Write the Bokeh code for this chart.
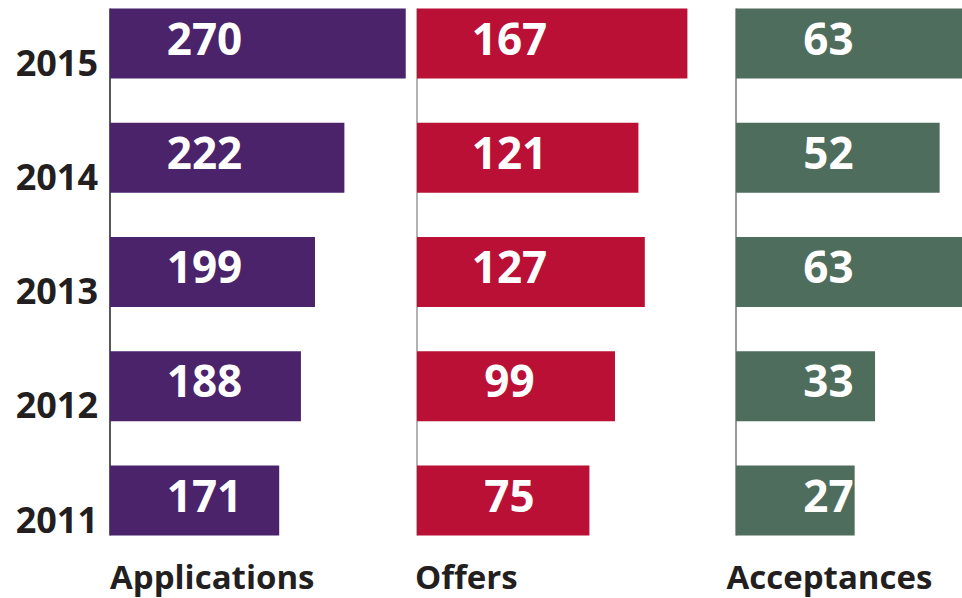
from bokeh.plotting import figure
from bokeh.models import Range1d, ColumnDataSource
from bokeh.core.properties import value
from bokeh.embed import file_html
from bokeh.resources import INLINE

# ---- data ----
years = [2015, 2014, 2013, 2012, 2011]
year_labels = ["2015", "2014", "2013", "2012", "2011"]
applications = [270, 222, 199, 188, 171]
offers = [167, 121, 127, 99, 75]
acceptances = [63, 52, 63, 33, 27]
panel_titles = ["Applications", "Offers", "Acceptances"]

# ---- layout / style ----
W, H = 962, 598
FONT = value("Open Sans")
TEXT_DARK = "#231F20"
colors = ["#4A236A", "#BA1035", "#4F6D5C"]
line_colors = ["#231F20", "#9A9A9A", "#7A7A7A"]
# (origin pixel of bar base, pixels per unit, base value of bars)
panel_geom = [(109.5, 1.278, 38.6), (416.5, 1.065, -86.9), (735.5, 3.4, -7.9)]
label_dx = [94.5, 92.5, 92.5]
title_dx = [0, -2, -9.5]

row_px = 114.25
bar_px = 70
top_center_px = 43
y_end = max(years) + top_center_px / row_px
y_start = y_end - H / row_px
bar_h = bar_px / row_px

ranges = []
for origin, ppu, base in panel_geom:
    ranges.append(Range1d(base - origin / ppu, base + (W - origin) / ppu))

p = figure(width=W, height=H, output_backend="svg", toolbar_location=None,
           x_range=ranges[0], y_range=Range1d(y_start, y_end),
           min_border=0, min_border_left=0, min_border_right=0,
           min_border_top=0, min_border_bottom=0)
p.extra_x_ranges = {"p1": ranges[1], "p2": ranges[2]}
p.xaxis.visible = False
p.yaxis.visible = False
p.xgrid.visible = False
p.ygrid.visible = False
p.outline_line_color = None
p.background_fill_color = "white"
p.border_fill_color = "white"

range_names = ["default", "p1", "p2"]
series = [applications, offers, acceptances]

for i, vals in enumerate(series):
    origin, ppu, base = panel_geom[i]
    rn = range_names[i]
    src = ColumnDataSource(dict(
        y=years, right=vals, left=[base] * len(vals),
        label=[str(v) for v in vals]))
    # baseline line
    p.segment(x0=[base], x1=[base], y0=[max(years) + bar_h / 2],
              y1=[min(years) - bar_h / 2], line_color=line_colors[i],
              line_width=1.5, x_range_name=rn)
    p.hbar(y="y", left="left", right="right", height=bar_h, source=src,
           fill_color=colors[i], line_color=None, x_range_name=rn)
    p.text(x="left", y="y", text="label", source=src, x_range_name=rn,
           text_font=FONT, text_font_style="bold", text_font_size="44px",
           text_color="white", text_align="center",
           text_baseline="alphabetic", x_offset=label_dx[i], y_offset=-5)
    p.text(x=[base], y=[min(years)], text=[panel_titles[i]], x_range_name=rn,
           text_font=FONT, text_font_style="bold", text_font_size="33px",
           text_color=TEXT_DARK, text_align="left",
           text_baseline="alphabetic", x_offset=title_dx[i], y_offset=76)

# year labels
base0 = panel_geom[0][2]
p.text(x=[base0] * len(years), y=years, text=year_labels,
       text_font=FONT, text_font_style="bold", text_font_size="36px",
       text_color=TEXT_DARK, text_align="right", text_baseline="alphabetic",
       x_offset=-12, y_offset=19)

open("out.html", "w").write(file_html(p, INLINE))
